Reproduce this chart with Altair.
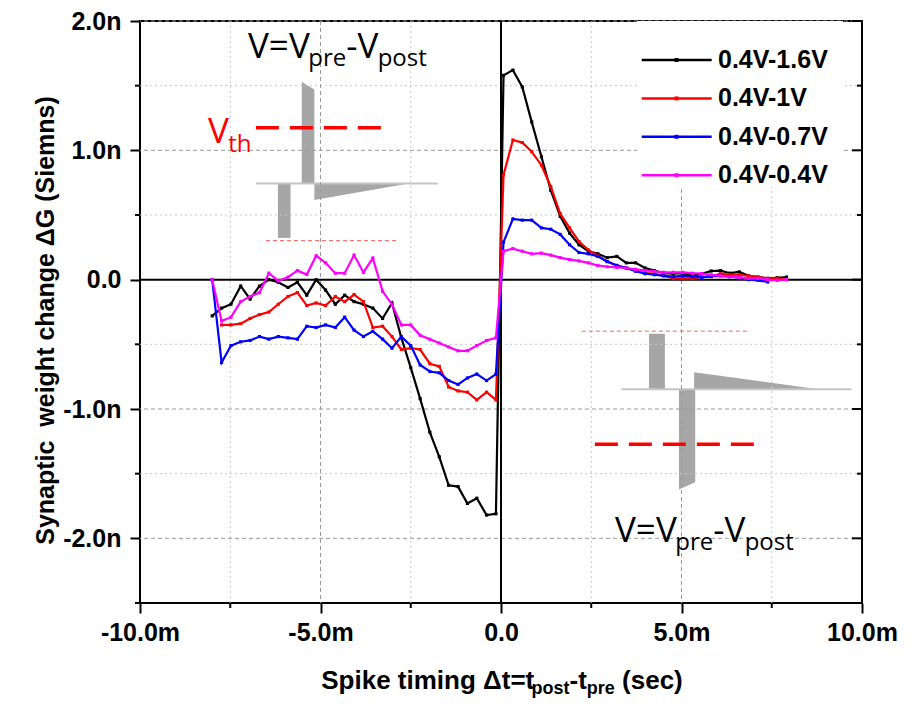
import altair as alt
import pandas as pd

# ---------------- data ----------------
SERIES = ["0.4V-1.6V", "0.4V-1V", "0.4V-0.7V", "0.4V-0.4V"]
COLORS = ["#000000", "#ff0000", "#0000ff", "#ff00ff"]

# spike timing, ms
X_NEG = [-8.0, -7.74, -7.48, -7.21, -6.95, -6.69, -6.43, -6.17, -5.9, -5.64, -5.38,
         -5.12, -4.86, -4.59, -4.33, -4.07, -3.81, -3.55, -3.28, -3.02, -2.76, -2.5,
         -2.24, -1.97, -1.71, -1.45, -1.19, -0.93, -0.67, -0.4, -0.14]
X_POS = [0.07, 0.33, 0.59, 0.85, 1.12, 1.38, 1.64, 1.9, 2.16, 2.42, 2.68, 2.94, 3.21,
         3.47, 3.73, 3.99, 4.25, 4.51, 4.77, 5.03, 5.3, 5.56, 5.82, 6.08, 6.34, 6.6,
         6.86, 7.12, 7.39, 7.65, 7.91]

# weight change, nS
G_16_NEG = [-0.28, -0.22, -0.19, -0.05, -0.15, -0.05, 0.0, -0.02, -0.06, -0.02, -0.12,
            0.0, -0.08, -0.19, -0.12, -0.17, -0.19, -0.22, -0.30, -0.18, -0.45, -0.68,
            -0.92, -1.18, -1.37, -1.59, -1.60, -1.73, -1.69, -1.82, -1.81]
G_16_POS = [1.58, 1.62, 1.49, 1.22, 0.95, 0.69, 0.49, 0.36, 0.27, 0.22, 0.20, 0.17, 0.18,
            0.13, 0.13, 0.09, 0.07, 0.05, 0.046, 0.05, 0.03, 0.045, 0.067, 0.07, 0.05,
            0.06, 0.03, 0.02, 0.01, 0.015, 0.02]
G_10_NEG = [None, -0.35, -0.35, -0.34, -0.30, -0.27, -0.25, -0.19, -0.13, -0.10, -0.20,
            -0.18, -0.20, -0.13, -0.17, -0.115, -0.17, -0.37, -0.36, -0.44, -0.54, -0.53,
            -0.54, -0.65, -0.67, -0.83, -0.86, -0.87, -0.93, -0.87, -0.93]
G_10_POS = [0.81, 1.08, 1.06, 0.99, 0.885, 0.72, 0.51, 0.40, 0.295, 0.23, 0.185, 0.14,
            0.11, 0.09, 0.072, 0.05, 0.046, 0.03, 0.01, 0.01, 0.01, 0.02, 0.023, 0.046,
            0.038, 0.038, 0.03, 0.02, 0.01, 0.01, 0.0]
G_07_NEG = [0.0, -0.64, -0.51, -0.48, -0.47, -0.44, -0.46, -0.44, -0.45, -0.46, -0.36,
            -0.37, -0.35, -0.37, -0.29, -0.39, -0.44, -0.40, -0.46, -0.53, -0.44, -0.51,
            -0.66, -0.71, -0.72, -0.78, -0.81, -0.76, -0.73, -0.78, -0.73]
G_07_POS = [0.29, 0.47, 0.46, 0.46, 0.40, 0.39, 0.35, 0.27, 0.21, 0.20, 0.18, 0.14, 0.11,
            0.09, 0.065, 0.046, 0.038, 0.03, 0.023, 0.03, 0.023, 0.018, 0.028, 0.03,
            0.023, 0.018, 0.0, -0.005, -0.018, None, None]
G_04_NEG = [0.0, -0.32, -0.29, -0.17, -0.13, -0.10, 0.05, -0.01, 0.02, 0.07, 0.04, 0.185,
            0.13, 0.05, 0.05, 0.19, 0.056, 0.167, -0.09, -0.19, -0.35, -0.35, -0.43,
            -0.46, -0.49, -0.52, -0.55, -0.55, -0.51, -0.47, -0.45]
G_04_POS = [0.22, 0.24, 0.22, 0.20, 0.205, 0.19, 0.17, 0.155, 0.145, 0.13, 0.11, 0.10,
            0.095, 0.09, 0.08, 0.072, 0.065, 0.057, 0.057, 0.057, 0.05, 0.046, 0.038,
            0.03, 0.023, 0.018, 0.01, 0.01, 0.0, -0.005, 0.0]

SERIES_Y = [G_16_NEG + G_16_POS, G_10_NEG + G_10_POS, G_07_NEG + G_07_POS, G_04_NEG + G_04_POS]

X_TICKS = [-10, -5, 0, 5, 10]
X_MINOR = [-7.5, -2.5, 2.5, 7.5]
Y_TICKS = [-2, -1, 0, 1, 2]
Y_MINOR = [-2.5, -1.5, -0.5, 0.5, 1.5]
X_GRID_MAJOR = [-5, 5]
Y_GRID_MAJOR = [-2, -1, 1, 2]
Y_GRID_MINOR = [-1.5, -0.5, 0.5, 1.5]

# schematic pulse insets (in axis units: ms, nS)
INSET_BASE = pd.DataFrame({"x1": [-6.79, 3.34], "x2": [-1.75, 9.71], "y": [0.744, -0.848]})
INSET_RECT = pd.DataFrame({"x1": [-6.18, 4.10], "x2": [-5.83, 4.54],
                           "y1": [0.323, -0.848], "y2": [0.744, -0.418]})
INSET_AREA = pd.DataFrame({
    "shape": ["a", "a", "b", "b", "c", "c", "d", "d"],
    "x": [-5.52, -5.17, -5.17, -2.56, 4.93, 5.38, 5.35, 8.79],
    "y": [1.53, 1.47, 0.616, 0.744, -1.622, -1.566, -0.715, -0.848],
    "y2": [0.744, 0.744, 0.744, 0.744, -0.848, -0.848, -0.848, -0.848],
})
VTH_THICK = pd.DataFrame({"x1": [-6.79, 2.60], "x2": [-3.19, 7.16], "y": [1.174, -1.273]})
VTH_THIN = pd.DataFrame({"x1": [-6.51, 2.24], "x2": [-2.85, 6.90], "y": [0.302, -0.398]})

# ---------------- chart ----------------
W, H = 722, 582
PX0, PY0 = 140, 21          # page position of plot origin
FONT_B = "Liberation Sans"
FONT_I = "Open Sans"
ONE = pd.DataFrame({"k": [0]})

XS = alt.Scale(domain=[-10, 10], nice=False, zero=False)
YS = alt.Scale(domain=[-2.5, 2.0], nice=False, zero=False)

rows = []
for name, ys in zip(SERIES, SERIES_Y):
    for i, (x, y) in enumerate(zip(X_NEG + X_POS, ys)):
        if y is not None:
            rows.append({"series": name, "t": x, "g": y, "i": i})
df = pd.DataFrame(rows)
color_scale = alt.Scale(domain=SERIES, range=COLORS)

XAX = alt.Axis(values=X_TICKS, title=None, grid=False, domain=False,
               labelExpr="(datum.value < 0 ? '-' : '') + (datum.value == 0 ? '0.0' : format(abs(datum.value), '.1f') + 'm')",
               tickSize=10, tickWidth=2, tickColor="black",
               labelFont=FONT_B, labelFontWeight="bold", labelFontSize=25, labelColor="black",
               labelPadding=7, labelFlush=False, labelOverlap=False, labelBound=False)
YAX = alt.Axis(values=Y_TICKS, grid=False, domain=False,
               labelExpr="(datum.value < 0 ? '-' : '') + (datum.value == 0 ? '0.0' : format(abs(datum.value), '.1f') + 'n')",
               tickSize=10, tickWidth=2, tickColor="black",
               labelFont=FONT_B, labelFontWeight="bold", labelFontSize=25, labelColor="black",
               labelPadding=9, labelOverlap=False, labelBound=False,
               title="Synaptic\u00a0 weight change \u0394G (Siemns)", titleFont=FONT_B,
               titleFontWeight="bold", titleFontSize=25, titleColor="black",
               titleX=-87, titleY=299, titleBaseline="alphabetic")


def X(field):
    return alt.X(field, scale=XS, axis=XAX)


def Y(field):
    return alt.Y(field, scale=YS, axis=YAX)


def vrules(values, **kw):
    return alt.Chart(pd.DataFrame({"v": values})).mark_rule(**kw).encode(x=X("v:Q"))


def hrules(values, **kw):
    return alt.Chart(pd.DataFrame({"v": values})).mark_rule(**kw).encode(y=Y("v:Q"))


def ptext(txt, px, py, size, font=FONT_I, weight="normal", color="black", align="left",
          baseline="alphabetic"):
    return alt.Chart(ONE).mark_text(text=txt, font=font, fontSize=size, fontWeight=weight,
                                    color=color, align=align, baseline=baseline).encode(
        x=alt.value(px - PX0), y=alt.value(py - PY0))


layers = []
# inset shapes
layers.append(alt.Chart(INSET_RECT).mark_rect(color="#a6a6a6").encode(
    x=X("x1:Q"), x2="x2:Q", y=Y("y1:Q"), y2="y2:Q"))
layers.append(alt.Chart(INSET_AREA).mark_area(color="#a6a6a6").encode(
    x=X("x:Q"), y=Y("y:Q"), y2="y2:Q", detail="shape:N"))
layers.append(alt.Chart(INSET_BASE).mark_rule(color="#c4c4c4", strokeWidth=2).encode(
    x=X("x1:Q"), x2="x2:Q", y=Y("y:Q")))

# grid
layers.append(vrules(X_MINOR, color="#c8c8c8", strokeDash=[2, 3], strokeWidth=1))
layers.append(hrules(Y_GRID_MINOR, color="#c8c8c8", strokeDash=[2, 3], strokeWidth=1))
layers.append(vrules(X_GRID_MAJOR, color="#9a9a9a", strokeDash=[4, 3], strokeWidth=1))
layers.append(hrules(Y_GRID_MAJOR, color="#9a9a9a", strokeDash=[4, 3], strokeWidth=1))

# legend background
layers.append(alt.Chart(ONE).mark_rect(color="white").encode(
    x=alt.value(497), x2=alt.value(703), y=alt.value(0), y2=alt.value(166)))

# zero lines
layers.append(vrules([0], color="black", strokeWidth=2))
layers.append(hrules([0], color="black", strokeWidth=2))

# threshold dashes
layers.append(alt.Chart(VTH_THICK).mark_rule(color="#ff0000", strokeWidth=3.5, strokeDash=[23, 11]).encode(
    x=X("x1:Q"), x2="x2:Q", y=Y("y:Q")))
layers.append(alt.Chart(VTH_THIN).mark_rule(color="#ff6060", strokeWidth=1, strokeDash=[4, 3]).encode(
    x=X("x1:Q"), x2="x2:Q", y=Y("y:Q")))

# data series
for name in SERIES:
    layers.append(alt.Chart(df[df.series == name]).mark_line(
        strokeWidth=2.2,
        point=alt.OverlayMarkDef(shape="square", size=10, filled=True, opacity=1)).encode(
        x=X("t:Q"), y=Y("g:Q"),
        color=alt.Color("series:N", scale=color_scale, legend=None),
        order="i:Q"))

# minor ticks (outside left / bottom) and mirrored ticks (inside right)
layers.append(alt.Chart(pd.DataFrame({"v": Y_MINOR})).mark_rule(color="black", strokeWidth=2).encode(
    y=Y("v:Q"), x=alt.value(-5), x2=alt.value(0)))
layers.append(alt.Chart(pd.DataFrame({"v": X_MINOR})).mark_rule(color="black", strokeWidth=2).encode(
    x=X("v:Q"), y=alt.value(H), y2=alt.value(H + 5)))
layers.append(alt.Chart(pd.DataFrame({"v": Y_MINOR})).mark_rule(color="black", strokeWidth=2).encode(
    y=Y("v:Q"), x=alt.value(W - 5), x2=alt.value(W)))
layers.append(alt.Chart(pd.DataFrame({"v": Y_TICKS})).mark_rule(color="black", strokeWidth=2).encode(
    y=Y("v:Q"), x=alt.value(W - 10), x2=alt.value(W)))

# legend
for i, (name, col) in enumerate(zip(SERIES, COLORS)):
    ly = 39 + i * 38.4
    layers.append(alt.Chart(ONE).mark_rule(color=col, strokeWidth=2.5).encode(
        x=alt.value(501.7), x2=alt.value(571.7), y=alt.value(ly)))
    layers.append(alt.Chart(ONE).mark_point(shape="square", filled=True, size=16, color=col,
                                            opacity=1).encode(x=alt.value(536.5), y=alt.value(ly)))
    layers.append(alt.Chart(ONE).mark_text(text=name, font=FONT_B, fontWeight="bold", fontSize=25,
                                           align="left", baseline="middle", color="black").encode(
        x=alt.value(578), y=alt.value(ly)))

# inset labels  V=V_pre-V_post  (chained using Open Sans advance widths)
OS = {'V': .575, '=': .572, 'p': .613, 'r': .408, 'e': .561, '-': .322, 'o': .604,
      's': .477, 't': .353, 'h': .634}


def chain(parts, x0, base, sub_base, color="black"):
    out = []
    cx = x0
    for t, s, is_sub in parts:
        out.append(ptext(t, cx, sub_base if is_sub else base, s, color=color))
        cx += sum(OS[c] for c in t) * s
    return out


VPARTS = [("V=V", 35, False), ("pre", 24, True), ("-V", 35, False), ("post", 24, True)]
layers += chain(VPARTS, 248, 58.3, 65.5)
layers += chain(VPARTS, 615, 541.7, 549.5)
layers += chain([("V", 35, False), ("th", 24, True)], 208, 143.3, 151.7, color="#ff0000")

# x-axis title with subscripts
AB = {'S': .667, 'p': .611, 'i': .278, 'k': .556, 'e': .556, ' ': .278, 't': .333, 'm': .889,
      'n': .611, 'g': .611, '\u0394': .612, '=': .584, 'o': .611, 's': .556, '-': .333,
      'r': .389, '(': .333, 'c': .556, ')': .333}
pieces = [("Spike timing \u0394t=t", 26, 0, 0), ("post", 18, 5.5, 0), ("-t", 26, 0, 0),
          ("pre", 18, 5.5, 0), ("(sec)", 26, 0, 0.278 * 26)]
total = sum(sum(AB[c] for c in t) * s + g for t, s, d, g in pieces)
cx = 502 - total / 2
for t, s, d, g in pieces:
    cx += g
    layers.append(ptext(t, cx, 688.5 + d, s, font=FONT_B, weight="bold"))
    cx += sum(AB[c] for c in t) * s

chart = alt.layer(*layers).properties(
    width=W, height=H,
    autosize=alt.AutoSizeParams(type="none"),
    padding={"left": PX0 - 8, "top": PY0 - 8, "right": 40, "bottom": 706 - 8 - PY0 - H},
    background="white",
).configure_view(stroke="black", strokeWidth=2)

chart.save("out.html", embed_options={"renderer": "svg", "actions": False})
